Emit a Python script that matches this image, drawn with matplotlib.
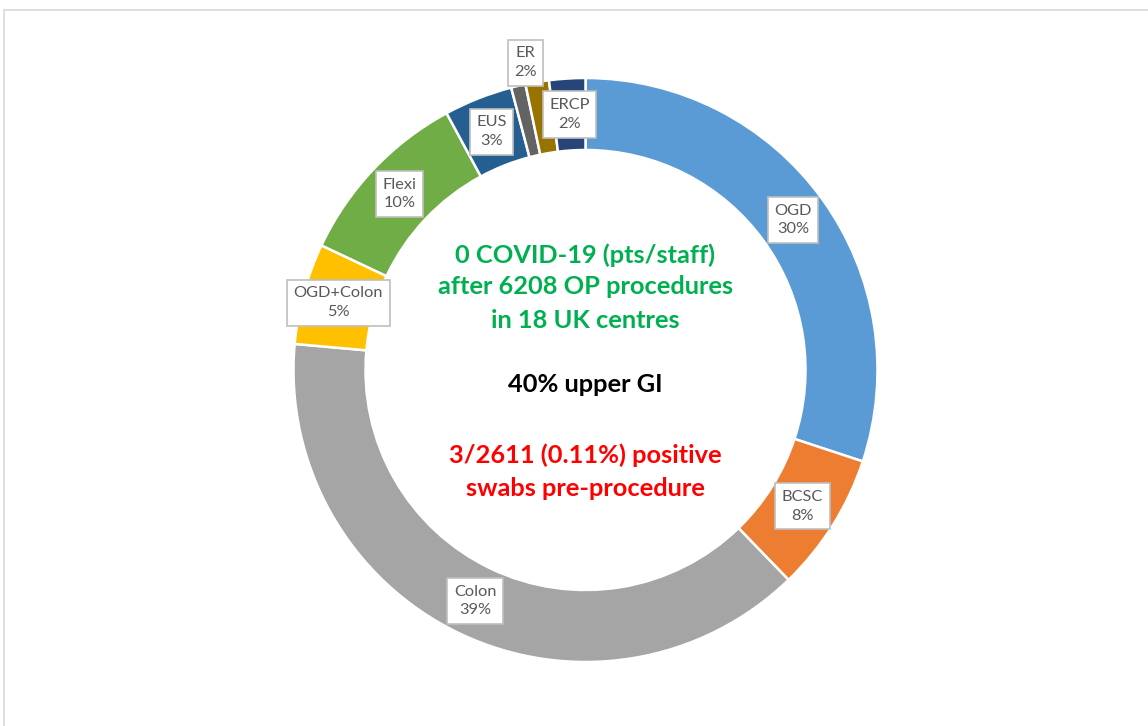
import matplotlib
matplotlib.use('Agg')
import matplotlib.pyplot as plt
import numpy as np
from matplotlib.patches import Rectangle

# ---- data ----
categories = ["OGD", "BCSC", "Colon", "OGD+Colon", "Flexi", "EUS", "", "ER", "ERCP"]
values = [30.1, 7.7, 38.7, 5.6, 10.1, 3.8, 0.8, 1.3, 2.0]
pct_labels = ["30%", "8%", "39%", "5%", "10%", "3%", "", "2%", "2%"]
colors = ["#5B9BD5", "#ED7D31", "#A5A5A5", "#FFC000", "#70AD47",
          "#255E91", "#636363", "#997300", "#264478"]

green_lines = ["0 COVID-19 (pts/staff)", "after 6208 OP procedures", "in 18 UK centres"]
black_lines = ["40% upper GI"]
red_lines = ["3/2611 (0.11%) positive", "swabs pre-procedure"]

W, H = 1148, 726
fig = plt.figure(figsize=(W / 100, H / 100), dpi=100)
fig.patch.set_facecolor('white')
ax = fig.add_axes([0, 0, 1, 1])

cx, cy = 585.5, H - 370
R = 292
ring = 72

wedges, _ = ax.pie(values, colors=colors, startangle=90, counterclock=False,
                   radius=R, center=(cx, cy),
                   wedgeprops=dict(width=ring, edgecolor='white', linewidth=1.8),
                   frame=False)
ax.set_xlim(0, W)
ax.set_ylim(0, H)
ax.set_aspect('equal')
ax.axis('off')

# outer frame of the chart area
ax.add_patch(Rectangle((4, -20), W + 20, H - 10 + 20, fill=False,
                       ec='#D9D9D9', lw=1.2, clip_on=False))

label_font = 'Lato'
offsets = {"ER": (57, 1.5)}
mid_r = R - ring / 2
for w, name, pct in zip(wedges, categories, pct_labels):
    if not name:
        continue
    th = 0.5 * (w.theta1 + w.theta2)
    dr, dth = offsets.get(name, (0, 0))
    r = mid_r + dr
    t = np.deg2rad(th + dth)
    x = cx + r * np.cos(t)
    y = cy + r * np.sin(t)
    ax.text(x, y, f"{name}\n{pct}", ha='center', va='center', fontsize=11.8,
            color='#595959', family=label_font, linespacing=1.45,
            bbox=dict(boxstyle='square,pad=0.4', fc='white', ec='#BFBFBF', lw=1.2))

def draw_lines(lines, y_tops, color):
    for s, yp in zip(lines, y_tops):
        ax.text(cx, H - yp, s, ha='center', va='center', fontsize=18.3,
                fontweight='bold', color=color, family=label_font)

draw_lines(green_lines, [255, 287, 320], '#00B050')
draw_lines(black_lines, [385], 'black')
draw_lines(red_lines, [455, 488], '#FF0000')

fig.savefig('out.png', dpi=100, facecolor='white')
